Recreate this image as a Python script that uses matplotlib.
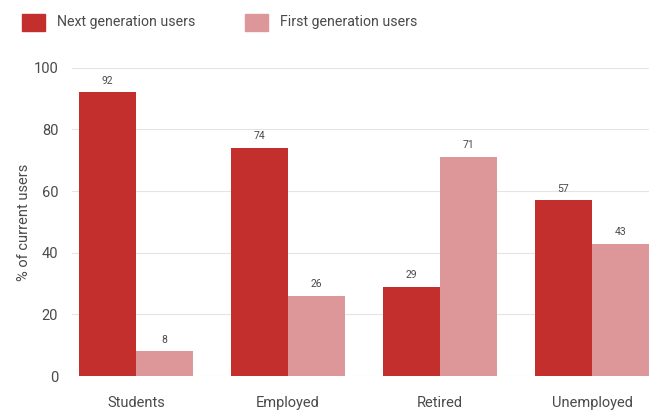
import numpy as np
import matplotlib
matplotlib.use("Agg")
import matplotlib.pyplot as plt
from matplotlib.patches import Rectangle

plt.rcParams['font.family'] = ['Roboto', 'DejaVu Sans']

# data
categories = ["Students", "Employed", "Retired", "Unemployed"]
next_gen = [92, 74, 29, 57]
first_gen = [8, 26, 71, 43]
series_names = ["Next generation users", "First generation users"]

c_next = "#c22f2d"
c_first = "#dd9799"
txt = "#4a4a4a"

fig = plt.figure(figsize=(6.49, 4.11), dpi=100)
ax = fig.add_axes([0.111, 0.085, 0.889, 0.75])

x = np.arange(len(categories))
w = 0.375
b1 = ax.bar(x - w / 2, next_gen, w, color=c_next, zorder=3)
b2 = ax.bar(x + w / 2, first_gen, w, color=c_first, zorder=3)

for bars, vals in [(b1, next_gen), (b2, first_gen)]:
    for r, v in zip(bars, vals):
        ax.text(r.get_x() + r.get_width() / 2, v + 2.2, str(v), ha='center', va='bottom',
                fontsize=7.5, color=txt)

ax.set_xlim(-0.42, 3.375)
ax.set_ylim(0, 100)
ax.set_yticks(range(0, 101, 20))
ax.grid(axis='y', color='#e4e4e4', linewidth=0.8, zorder=0)
for s in ax.spines.values():
    s.set_visible(False)
ax.tick_params(axis='both', length=0, colors=txt, labelsize=10.5)
ax.tick_params(axis='x', pad=14)
ax.tick_params(axis='y', pad=10)
ax.set_xticks(x)
ax.set_xticklabels(categories)
ax.set_ylabel("% of current users", color=txt, fontsize=10.5, labelpad=2)

# legend drawn in figure coords
fig.patches.append(Rectangle((22 / 649, 1 - 31 / 411), 23 / 649, 17 / 411,
                             transform=fig.transFigure, color=c_next))
fig.patches.append(Rectangle((245 / 649, 1 - 31 / 411), 23 / 649, 17 / 411,
                             transform=fig.transFigure, color=c_first))
fig.text(57 / 649, 1 - 22 / 411, series_names[0], va='center', ha='left', color=txt, fontsize=10.2)
fig.text(280 / 649, 1 - 22 / 411, series_names[1], va='center', ha='left', color=txt, fontsize=10.2)

fig.savefig("out.png", dpi=100, facecolor="white")
